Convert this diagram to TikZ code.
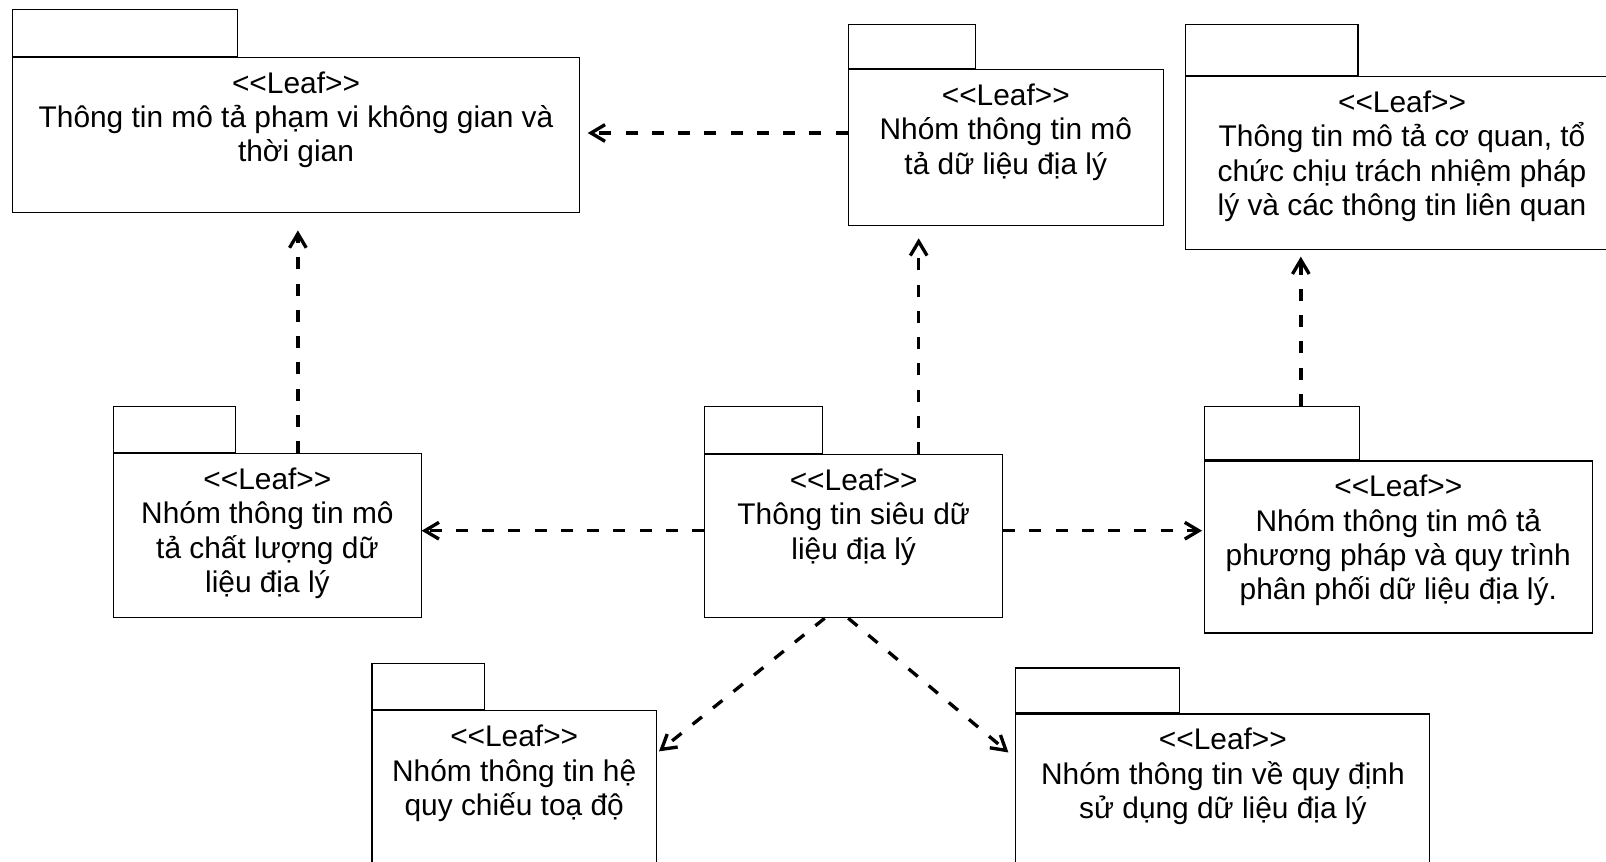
\documentclass[tikz,border=0pt]{standalone}
\usepackage{fontspec}
\newfontfamily\pkgfont{Liberation Sans}
\usetikzlibrary{arrows.meta, positioning, calc}

\begin{document}
\begin{tikzpicture}[x=0.02cm, y=-0.02cm,
  >={Straight Barb[length=8pt, width=9.5pt]},
  pkg/.style 2 args={draw, line width=0.6pt, inner sep=0pt,
                     minimum width=#1, minimum height=#2},
  tab/.style 2 args={draw, line width=0.6pt, inner sep=0pt, anchor=south west,
                     minimum width=#1, minimum height=#2},
  txt/.style={font=\pkgfont\fontsize{17}{19.5}\selectfont, align=center, inner sep=0pt},
  dep/.style={->, line width=1.9pt, dash pattern=on 0.24cm off 0.285cm}]
  \clip (0,0) rectangle (1606,862);
  \useasboundingbox (0,0) rectangle (1606,862);

  % packages
  \node[pkg={11.35cm}{3.11cm}] (sp) at (296,135.2) {};
  \node[pkg={6.31cm}{3.11cm}] (dl) at (1005.8,147.5) {};
  \node[pkg={8.68cm}{3.45cm}] (cq) at (1402,162.9) {};
  \node[pkg={6.15cm}{3.28cm}] (cl) at (267.4,535.7) {};
  \node[pkg={5.96cm}{3.26cm}] (sdl) at (853.7,536.2) {};
  \node[pkg={7.75cm}{3.44cm}] (pp) at (1398.3,547) {};
  \node[pkg={5.69cm}{3.78cm}] (ht) at (514.2,805.4) {};
  \node[pkg={8.28cm}{3.72cm}] (qd) at (1222.9,807) {};

  % tabs
  \node[tab={4.51cm}{0.94cm}] (sptab) at (sp.north west) {};
  \node[tab={2.54cm}{0.88cm}] (dltab) at (dl.north west) {};
  \node[tab={3.46cm}{1.02cm}] (cqtab) at (cq.north west) {};
  \node[tab={2.44cm}{0.92cm}] (cltab) at (cl.north west) {};
  \node[tab={2.36cm}{0.94cm}] (sdltab) at (sdl.north west) {};
  \node[tab={3.09cm}{1.07cm}] (pptab) at (pp.north west) {};
  \node[tab={2.25cm}{0.92cm}] (httab) at (ht.north west) {};
  \node[tab={3.28cm}{0.90cm}] (qdtab) at (qd.north west) {};

  % texts
  \node[txt, below=0.29cm of sp.north] (sp-t) {<{}<Leaf>{}>\\Thông tin mô tả phạm vi không gian và\\thời gian};
  \node[txt, below=0.29cm of dl.north] (dl-t) {<{}<Leaf>{}>\\Nhóm thông tin mô\\tả dữ liệu địa lý};
  \node[txt, below=0.29cm of cq.north] (cq-t) {<{}<Leaf>{}>\\Thông tin mô tả cơ quan, tổ\\chức chịu trách nhiệm pháp\\lý và các thông tin liên quan};
  \node[txt, below=0.29cm of cl.north] (cl-t) {<{}<Leaf>{}>\\Nhóm thông tin mô\\tả chất lượng dữ\\liệu địa lý};
  \node[txt, below=0.29cm of sdl.north] (sdl-t) {<{}<Leaf>{}>\\Thông tin siêu dữ\\liệu địa lý};
  \node[txt, below=0.29cm of pp.north] (pp-t) {<{}<Leaf>{}>\\Nhóm thông tin mô tả\\phương pháp và quy trình\\phân phối dữ liệu địa lý.};
  \node[txt, below=0.29cm of ht.north] (ht-t) {<{}<Leaf>{}>\\Nhóm thông tin hệ\\quy chiếu toạ độ};
  \node[txt, below=0.29cm of qd.north] (qd-t) {<{}<Leaf>{}>\\Nhóm thông tin về quy định\\sử dụng dữ liệu địa lý};

  % dependencies
  \draw[dep, shorten >=0.15cm] ([yshift=0.29cm]dl.west) -- ([yshift=0.29cm]dl.west -| sp.east);
  \draw[dep, shorten >=0.34cm] ([xshift=0.61cm]cl.north) -- ([xshift=0.61cm]cl.north |- sp.south);
  \draw[dep, shorten >=0.25cm] ([xshift=1.3cm]sdl.north) -- ([xshift=1.3cm]sdl.north |- dl.south);
  \draw[dep, shorten >=0.14cm] ([xshift=0.38cm]pptab.north) -- ([xshift=0.38cm]pptab.north |- cq.south);
  \draw[dep] ([yshift=0.11cm]sdl.west) -- ([yshift=0.11cm]sdl.west -| cl.east);
  \draw[dep, shorten >=0.04cm] ([yshift=0.11cm]sdl.east) -- ([yshift=0.11cm]sdl.east -| pp.west);
  \draw[dep] ([xshift=-0.58cm]sdl.south) -- ([shift={(0.04cm,-0.82cm)}]ht.north east);
  \draw[dep] ([xshift=-0.11cm]sdl.south) -- ([shift={(-0.14cm,-0.78cm)}]qd.north west);
\end{tikzpicture}
\end{document}
